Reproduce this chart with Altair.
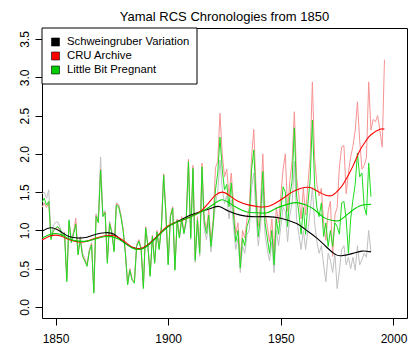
import altair as alt
import pandas as pd

FONT = "Liberation Sans"

# ---------------- data ----------------
green_years = list(range(1844, 1991))
green_values = [
    1.37, 1.42, 1.33, 1.38, 0.88, 1.00, 1.03, 1.05, 1.02, 0.92,
    0.96, 0.33, 1.13, 0.84, 0.95, 1.08, 0.68, 0.88, 0.66, 0.60,
    0.53, 0.72, 0.81, 0.18, 1.18, 1.10, 1.79, 1.18, 1.23, 0.57,
    1.09, 0.96, 0.72, 1.33, 1.31, 1.18, 1.00, 0.70, 0.29, 0.48,
    0.35, 0.31, 0.79, 0.86, 0.75, 0.24, 1.03, 0.79, 0.40, 0.92,
    0.57, 0.98, 0.75, 1.04, 1.72, 1.20, 0.55, 1.18, 1.29, 0.48,
    1.13, 0.90, 1.15, 0.96, 1.12, 1.90, 0.90, 1.81, 0.61, 1.14,
    0.70, 1.83, 1.10, 0.96, 1.20, 0.79, 1.10, 1.53, 1.75, 2.22,
    1.80, 1.53, 1.60, 1.31, 1.62, 1.20, 0.85, 1.00, 0.51, 0.90,
    0.80, 1.05, 1.15, 1.79, 2.05, 1.40, 0.92, 1.20, 1.77, 1.10,
    0.90, 0.70, 1.00, 0.55, 1.15, 0.95, 1.25, 1.57, 1.50, 1.05,
    1.45, 1.65, 2.34, 1.45, 1.23, 0.95, 1.30, 0.95, 1.35, 1.65,
    2.44, 1.60, 1.30, 1.18, 1.36, 0.92, 1.10, 0.79, 1.00, 0.79,
    1.10, 1.05, 0.95, 1.36, 1.38, 1.15, 0.70, 1.15, 1.40, 1.60,
    2.01, 1.70, 1.75, 1.31, 1.20, 1.88, 1.44,
]

cru_years = list(range(1844, 1997))
cru_values = [
    1.30, 1.36, 1.30, 1.36, 0.90, 0.98, 1.02, 1.04, 1.00, 0.94,
    0.97, 0.36, 1.10, 0.86, 0.97, 1.16, 0.70, 0.90, 0.68, 0.62,
    0.55, 0.74, 0.83, 0.20, 1.20, 1.12, 1.80, 1.20, 1.24, 0.60,
    1.10, 0.98, 0.74, 1.35, 1.33, 1.20, 1.02, 0.72, 0.31, 0.50,
    0.37, 0.33, 0.81, 0.88, 0.77, 0.27, 1.05, 0.81, 0.42, 0.94,
    0.59, 1.00, 0.77, 1.06, 1.74, 1.22, 0.58, 1.20, 1.31, 0.52,
    1.15, 0.93, 1.18, 0.99, 1.15, 1.93, 0.93, 1.85, 0.65, 1.18,
    0.74, 1.88, 1.16, 1.02, 1.27, 0.86, 1.15, 1.82, 1.90, 2.53,
    2.00, 1.70, 1.80, 1.45, 1.75, 1.35, 0.95, 1.10, 0.62, 1.00,
    0.90, 1.15, 1.30, 1.95, 2.32, 1.55, 1.05, 1.35, 2.00, 1.25,
    1.05, 0.85, 1.15, 0.70, 1.30, 1.10, 1.45, 1.80, 2.00, 1.25,
    1.65, 1.90, 2.55, 1.70, 1.45, 1.15, 1.55, 1.20, 1.60, 1.95,
    2.94, 1.95, 1.60, 1.45, 1.55, 1.10, 0.87, 1.25, 1.38, 0.66,
    1.20, 1.30, 1.83, 2.09, 2.11, 1.48, 1.75, 1.96, 2.10, 2.30,
    2.68, 2.18, 1.80, 1.85, 1.95, 2.94, 2.31, 2.45, 2.42, 2.50,
    2.30, 2.09, 3.23,
]

gray_years = list(range(1844, 1991))
gray_values = [
    1.48, 1.50, 1.42, 1.53, 0.92, 1.06, 1.11, 1.11, 1.04, 0.95,
    0.98, 0.38, 1.14, 0.88, 0.98, 1.10, 0.72, 0.92, 0.70, 0.63,
    0.56, 0.75, 0.84, 0.22, 1.22, 1.15, 1.96, 1.22, 1.26, 0.62,
    1.12, 0.99, 0.75, 1.36, 1.34, 1.21, 1.02, 0.72, 0.30, 0.50,
    0.36, 0.33, 0.80, 0.87, 0.76, 0.26, 1.04, 0.80, 0.41, 0.93,
    0.58, 0.99, 0.76, 1.05, 1.73, 1.21, 0.56, 1.19, 1.30, 0.49,
    1.13, 0.90, 1.14, 0.95, 1.10, 1.85, 0.88, 1.75, 0.58, 1.10,
    0.66, 1.72, 1.02, 0.88, 1.10, 0.72, 1.05, 1.35, 1.50, 1.92,
    1.55, 1.35, 1.45, 1.15, 1.40, 1.05, 0.75, 0.90, 0.45, 0.80,
    0.70, 0.95, 1.00, 1.55, 1.75, 1.20, 0.80, 1.05, 1.55, 0.95,
    0.75, 0.60, 0.85, 0.45, 1.00, 0.80, 1.05, 1.30, 1.25, 0.85,
    1.20, 1.35, 1.90, 1.15, 0.95, 0.75, 1.00, 0.75, 1.00, 1.25,
    1.56, 1.10, 0.85, 0.70, 0.80, 0.55, 0.33, 0.70, 0.61, 0.45,
    0.70, 0.24, 0.48, 0.75, 0.80, 0.55, 0.65, 0.50, 0.65, 0.48,
    0.80, 0.55, 0.62, 0.70, 0.65, 1.00, 0.72,
]

# smoothed curves
black_smooth_years = [1844, 1848, 1852, 1856, 1860, 1864, 1868, 1872, 1876, 1880,
                      1884, 1887, 1890, 1895, 1900, 1905, 1910, 1915, 1920, 1923,
                      1927, 1932, 1937, 1944, 1950, 1957, 1961, 1966, 1970, 1974,
                      1977, 1982, 1986, 1990]
black_smooth_values = [0.99, 1.035, 0.99, 0.92, 0.90, 0.91, 0.95, 0.97, 0.95, 0.85,
                       0.78, 0.76, 0.79, 0.92, 1.05, 1.13, 1.20, 1.25, 1.30, 1.31,
                       1.25, 1.20, 1.18, 1.18, 1.16, 1.09, 1.01, 0.90, 0.79, 0.69,
                       0.67, 0.70, 0.73, 0.72]

red_smooth_years = [1844, 1848, 1852, 1856, 1860, 1864, 1868, 1872, 1876, 1880,
                    1884, 1887, 1890, 1895, 1900, 1905, 1910, 1914, 1918, 1921,
                    1924, 1927, 1931, 1936, 1940, 1945, 1951, 1955, 1959, 1963,
                    1967, 1970, 1973, 1976, 1978, 1982, 1985, 1988, 1990, 1994, 1996]
red_smooth_values = [0.875, 0.93, 0.93, 0.88, 0.85, 0.86, 0.90, 0.93, 0.93, 0.87,
                     0.78, 0.76, 0.79, 0.92, 1.06, 1.12, 1.18, 1.24, 1.36, 1.46,
                     1.50, 1.46, 1.38, 1.33, 1.31, 1.32, 1.42, 1.50, 1.55, 1.56,
                     1.50, 1.46, 1.46, 1.54, 1.62, 1.84, 2.04, 2.18, 2.25, 2.32, 2.32]

green_smooth_years = [1844, 1848, 1852, 1856, 1860, 1864, 1868, 1872, 1876, 1880,
                      1884, 1887, 1890, 1895, 1900, 1905, 1910, 1914, 1918, 1921,
                      1924, 1927, 1931, 1935, 1940, 1944, 1948, 1954, 1958, 1964,
                      1969, 1973, 1976, 1980, 1985, 1990]
green_smooth_values = [0.90, 0.95, 0.95, 0.89, 0.86, 0.86, 0.89, 0.92, 0.91, 0.85,
                       0.77, 0.75, 0.78, 0.91, 1.05, 1.12, 1.18, 1.23, 1.30, 1.36,
                       1.40, 1.36, 1.29, 1.24, 1.23, 1.23, 1.29, 1.35, 1.36, 1.29,
                       1.17, 1.13, 1.13, 1.22, 1.32, 1.34]

legend_labels = ["Schweingruber Variation", "CRU Archive", "Little Bit Pregnant"]
legend_colors = ["#000000", "#ff0000", "#00cd00"]

x_ticks = [1850, 1900, 1950, 2000]
y_ticks = [0.0, 0.5, 1.0, 1.5, 2.0, 2.5, 3.0, 3.5]

# ---------------- chart ----------------
x_enc = alt.X(
    "year:Q",
    scale=alt.Scale(domain=[1844, 2006], nice=False, zero=False),
    axis=alt.Axis(values=x_ticks, format="d", title=None, grid=False, domain=False,
                  tickSize=7, tickColor="black", tickWidth=1,
                  labelFont=FONT, labelFontSize=12, labelColor="black",
                  labelPadding=8, labelFlush=False),
)
y_enc = alt.Y(
    "value:Q",
    scale=alt.Scale(domain=[-0.144, 3.644], nice=False, zero=False),
    axis=alt.Axis(values=y_ticks, format=".1f", title=None, grid=False, domain=False,
                  tickSize=7, tickColor="black", tickWidth=1,
                  labelFont=FONT, labelFontSize=12, labelColor="black",
                  labelAngle=270, labelAlign="center", labelBaseline="bottom",
                  labelPadding=4, labelFlush=False),
)


def line_layer(years, values, color, width, interp="linear"):
    df = pd.DataFrame({"year": years, "value": values})
    return alt.Chart(df).mark_line(color=color, strokeWidth=width, clip=True,
                                   interpolate=interp).encode(x=x_enc, y=y_enc)


layers = [
    line_layer(gray_years, gray_values, "#c0c0c0", 1.0),
    line_layer(cru_years, cru_values, "#f79393", 1.0),
    line_layer(green_years, green_values, "#1fdc1f", 1.0),
    line_layer(black_smooth_years, black_smooth_values, "#000000", 1.1, "natural"),
    line_layer(red_smooth_years, red_smooth_values, "#ff0000", 1.1, "natural"),
    line_layer(green_smooth_years, green_smooth_values, "#00cd00", 1.1, "natural"),
]

one = pd.DataFrame({"k": [0]})
layers.append(
    alt.Chart(one).mark_rect(fill="white", stroke="black", strokeWidth=1).encode(
        x=alt.value(0), x2=alt.value(155), y=alt.value(0), y2=alt.value(56))
)
for i, (lab, col) in enumerate(zip(legend_labels, legend_colors)):
    yy = 14 + 14 * i
    layers.append(
        alt.Chart(one).mark_square(size=64, filled=True, stroke="black",
                                   strokeWidth=0.6, opacity=1).encode(
            x=alt.value(13.5), y=alt.value(yy), color=alt.value(col))
    )
    layers.append(
        alt.Chart(one).mark_text(align="left", baseline="middle", font=FONT,
                                 fontSize=11.3, color="black").encode(
            x=alt.value(25), y=alt.value(yy), text=alt.value(lab))
    )

chart = alt.layer(*layers).properties(
    width=365,
    height=290,
    title=alt.TitleParams("Yamal RCS Chronologies from 1850", font=FONT, fontSize=13,
                          fontWeight="normal", color="black", anchor="middle",
                          frame="group", baseline="alphabetic", offset=8, dy=14),
    autosize=alt.AutoSizeParams(type="none"),
    padding={"left": 34, "top": 20, "right": 5, "bottom": 34},
    background="white",
).configure_view(stroke="black", strokeWidth=1)

chart.save("out.html", embed_options={"renderer": "svg", "actions": False})
